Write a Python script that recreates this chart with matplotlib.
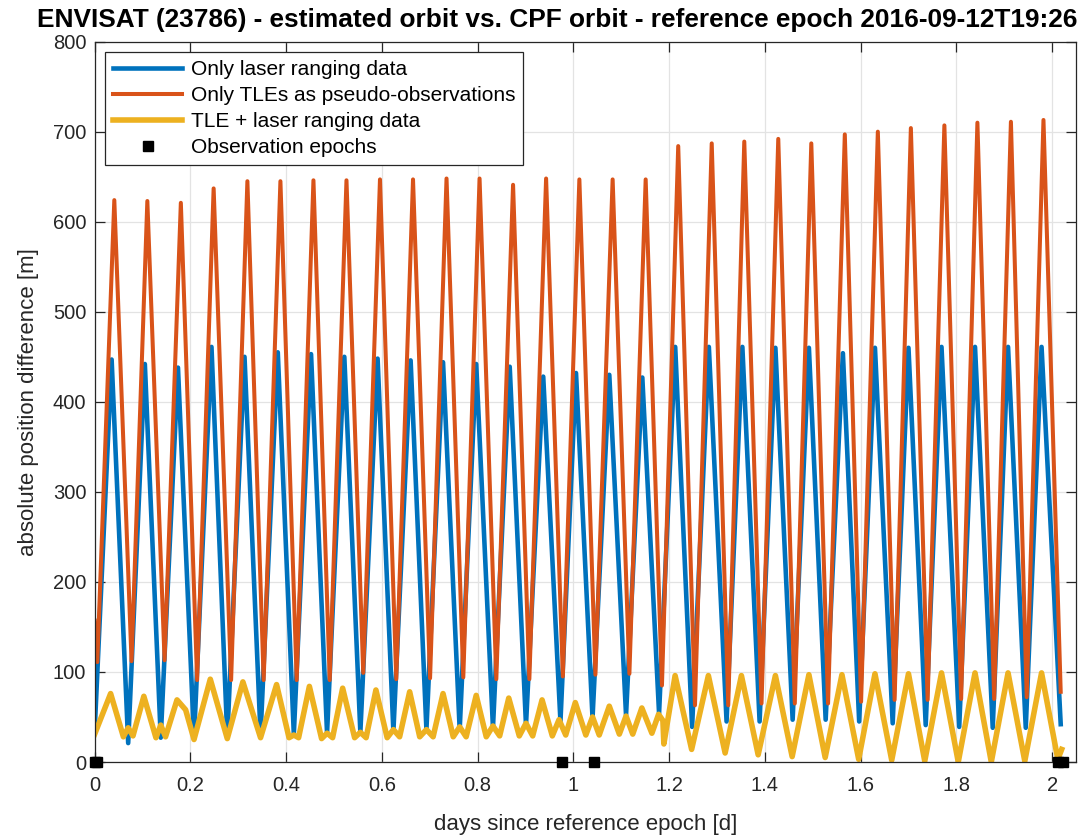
import matplotlib
matplotlib.use('Agg')
import matplotlib.pyplot as plt
import numpy as np
from matplotlib.ticker import FormatStrFormatter

plt.rcParams['font.family'] = ['Liberation Sans', 'DejaVu Sans']

# values (days, metres)
orange_start = (0.0, 157)
orange_end = (2.018, 78)
orange_peak_t = [0.041, 0.110, 0.180, 0.2485, 0.319, 0.388, 0.457, 0.526, 0.596, 0.665,
                 0.735, 0.804, 0.874, 0.943, 1.0125, 1.082, 1.151, 1.219, 1.289, 1.357,
                 1.428, 1.497, 1.567, 1.636, 1.705, 1.775, 1.844, 1.914, 1.982]
orange_peak_v = [624, 623, 621, 637, 645, 645, 646, 646, 647, 647,
                 648, 648, 641, 648, 647, 647, 647, 684, 687, 689,
                 692, 687, 697, 700, 704, 707, 710, 711, 713]
orange_trough_t = [0.0055, 0.077, 0.146, 0.214, 0.285, 0.353, 0.422, 0.491, 0.561, 0.630,
                   0.7006, 0.770, 0.839, 0.908, 0.978, 1.046, 1.117, 1.185, 1.254, 1.3235,
                   1.393, 1.4625, 1.532, 1.601, 1.671, 1.740, 1.810, 1.879, 1.947]
orange_trough_v = [111, 112, 113, 91, 91, 91, 91, 91, 99, 92,
                   93, 94, 92, 92, 95, 97, 98, 85, 63, 63,
                   65, 65, 65, 67, 69, 69, 70, 70, 72]

blue_start = (0.0, 35)
blue_end = (2.018, 42)
blue_peak_t = [0.0354, 0.1048, 0.174, 0.244, 0.313, 0.3825, 0.452, 0.5215, 0.591, 0.660,
               0.7277, 0.797, 0.867, 0.937, 1.0055, 1.075, 1.144, 1.2127, 1.283, 1.353,
               1.422, 1.492, 1.563, 1.630, 1.700, 1.769, 1.839, 1.908, 1.978]
blue_peak_v = [447, 442, 438, 461, 450, 455, 453, 450, 448, 446,
               444, 442, 439, 428, 432, 430, 427, 461, 461, 461,
               460, 460, 454, 460, 460, 461, 461, 461, 461]
blue_trough_t = [0.070, 0.138, 0.2075, 0.277, 0.3465, 0.416, 0.4854, 0.555, 0.624,
                 0.693, 0.7625, 0.832, 0.901, 0.973, 1.040, 1.110, 1.179,
                 1.248, 1.320, 1.389, 1.458, 1.527, 1.597, 1.667, 1.736, 1.806, 1.876, 1.945]
blue_trough_v = [21, 27, 26, 28, 30, 31, 32, 33, 34,
                 36, 36, 38, 41, 45, 49, 52, 54,
                 39, 45, 45, 47, 47, 45, 43, 41, 39, 38, 38]

yellow_peak_t = [0.0333, 0.1027, 0.172, 0.2415, 0.3096, 0.380, 0.4485, 0.518, 0.5875, 0.658,
                 0.7277, 0.797, 0.865, 0.9346, 1.004, 1.075, 1.143, 1.2125, 1.282, 1.351,
                 1.422, 1.492, 1.561, 1.630, 1.700, 1.769, 1.839, 1.908, 1.978]
yellow_peak_v = [76, 73, 69, 92, 89, 86, 84, 82, 80, 78,
                 76, 74, 71, 69, 66, 62, 60, 96, 96, 96,
                 96, 97, 97, 98, 98, 99, 99, 99, 99]
yellow_bump_t = [0.070, 0.138, 0.190, 0.416, 0.4854, 0.555, 0.624, 0.693, 0.7625,
                 0.832, 0.901, 0.970, 1.040, 1.110, 1.178, 1.187]
yellow_bump_v = [38, 41, 58, 30, 32, 33, 36, 36, 39,
                 40, 43, 47, 50, 51, 53, 46]
yellow_low_t = [0.0, 0.060, 0.080, 0.128, 0.148, 0.2075, 0.277, 0.3465, 0.406, 0.426,
                0.474, 0.497, 0.543, 0.567, 0.611, 0.637, 0.679, 0.707, 0.749, 0.776,
                0.818, 0.846, 0.887, 0.915, 0.956, 0.984, 1.026, 1.054, 1.096, 1.124,
                1.164, 1.189, 1.247, 1.317, 1.386, 1.457, 1.526, 1.596, 1.665, 1.734,
                1.804, 1.873, 1.943, 2.012, 2.020]
yellow_low_v = [31, 28, 29, 27, 28, 25, 26, 27, 27, 27,
                26, 27, 27, 27, 27, 28, 28, 28, 28, 28,
                28, 29, 29, 29, 29, 30, 30, 30, 31, 31,
                32, 20, 14, 10, 8, 6, 5, 3, 2, 1,
                0, 0, 1, 3, 14]

obs_epochs = [0.0, 0.004, 0.976, 1.044, 2.012, 2.022]

labels = ['Only laser ranging data', 'Only TLEs as pseudo-observations',
          'TLE + laser ranging data', 'Observation epochs']
title = 'ENVISAT (23786) - estimated orbit vs. CPF orbit - reference epoch 2016-09-12T19:26'


def merge(*parts):
    t = np.concatenate([np.atleast_1d(p[0]) for p in parts]).astype(float)
    v = np.concatenate([np.atleast_1d(p[1]) for p in parts]).astype(float)
    order = np.argsort(t, kind='stable')
    return t[order], v[order]


blue_t, blue_v = merge(blue_start, (blue_peak_t, blue_peak_v),
                       (blue_trough_t, blue_trough_v), blue_end)
orange_t, orange_v = merge(orange_start, (orange_peak_t, orange_peak_v),
                           (orange_trough_t, orange_trough_v), orange_end)
yellow_t, yellow_v = merge((yellow_peak_t, yellow_peak_v), (yellow_bump_t, yellow_bump_v),
                           (yellow_low_t, yellow_low_v))

fig = plt.figure(figsize=(10.87, 8.36), dpi=100)
ax = fig.add_axes([0.0871, 0.0885, 0.9028, 0.8617])

ax.plot(blue_t, blue_v, color='#0072BD', lw=3.3, label=labels[0])
ax.plot(orange_t, orange_v, color='#D95319', lw=2.9, label=labels[1])
ax.plot(yellow_t, yellow_v, color='#EDB120', lw=4.0, label=labels[2])
ax.plot(obs_epochs, np.zeros(len(obs_epochs)), 's', color='black', ms=7,
        clip_on=False, zorder=5, label=labels[3])

ax.set_xlim(0, 2.05)
ax.set_ylim(0, 800)
ax.set_xticks(np.arange(0, 2.01, 0.2))
ax.set_yticks(np.arange(0, 801, 100))
ax.xaxis.set_major_formatter(FormatStrFormatter('%g'))
ax.grid(True, color='#e3e3e3', lw=0.9)
ax.set_axisbelow(True)
for s in ax.spines.values():
    s.set_color('#262626')
    s.set_linewidth(0.9)
ax.tick_params(direction='in', length=7, width=0.9, top=True, right=True,
               labelsize=14.5, colors='#262626')
ax.tick_params(axis='x', pad=10)
ax.tick_params(axis='y', pad=6)

ax.set_xlabel('days since reference epoch [d]', fontsize=16, color='#262626', labelpad=14)
ax.set_ylabel('absolute position difference [m]', fontsize=16, color='#262626', labelpad=10)
fig.text(557 / 1087, 1 - 27 / 836, title, ha='center', va='baseline',
         fontsize=18.9, fontweight='bold', color='black')

leg = ax.legend(loc='upper left', fontsize=15, frameon=True, fancybox=False,
                framealpha=1, edgecolor='#262626', handlelength=3.3,
                labelspacing=0.33, borderaxespad=0.5, handletextpad=0.4)
leg.get_frame().set_linewidth(0.9)

fig.savefig('out.png', dpi=100)
